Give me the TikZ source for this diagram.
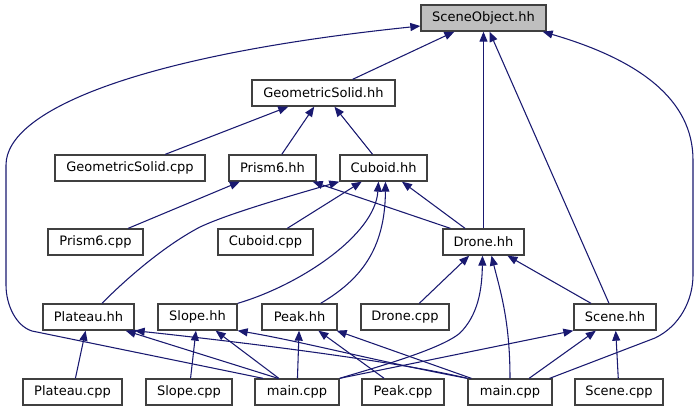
\documentclass[tikz,border=0pt]{standalone}
\usepackage{fontspec}
\setmainfont{DejaVu Sans}
\usepackage{xcolor}
\usetikzlibrary{arrows.meta, calc}
\definecolor{bleunuit}{HTML}{191970}
\definecolor{bord}{HTML}{404040}
\definecolor{grisfond}{HTML}{BFBFBF}
\tikzset{
  fichier/.style={rectangle, draw=bord, fill=white, line width=1pt,
    minimum height=19.5pt, inner sep=0pt, text=black,
    font=\fontsize{9.75}{11}\selectfont},
  racine/.style={fichier, fill=grisfond},
  larg/.style={minimum width=#1*0.75pt},
  inclusion/.style={-{Triangle[length=7.5pt, width=6pt]}, line width=0.8pt,
    color=bleunuit}
}
\begin{document}
\begin{tikzpicture}[x=0.75pt, y=-0.75pt]
    \useasboundingbox (0,0) rectangle (700,411);

    % Fichiers
    \node[racine,  larg=125] (so)  at (483.5,18)  {SceneObject.hh};
    \node[fichier, larg=143] (gsh) at (323.5,93)  {GeometricSolid.hh};
    \node[fichier, larg=150] (gsc) at (130,168)   {GeometricSolid.cpp};
    \node[fichier, larg=87]  (prh) at (272.5,168) {Prism6.hh};
    \node[fichier, larg=87]  (cuh) at (383.5,168) {Cuboid.hh};
    \node[fichier, larg=95]  (prc) at (95.5,242)  {Prism6.cpp};
    \node[fichier, larg=95]  (cuc) at (265.5,242) {Cuboid.cpp};
    \node[fichier, larg=81]  (drh) at (483.5,242) {Drone.hh};
    \node[fichier, larg=91]  (plh) at (88.5,317)  {Plateau.hh};
    \node[fichier, larg=79]  (slh) at (197.5,317) {Slope.hh};
    \node[fichier, larg=75]  (pkh) at (299.5,317) {Peak.hh};
    \node[fichier, larg=88]  (drc) at (405,317)   {Drone.cpp};
    \node[fichier, larg=82]  (sch) at (615,317)   {Scene.hh};
    \node[fichier, larg=99]  (plc) at (72.5,392)  {Plateau.cpp};
    \node[fichier, larg=86]  (slc) at (189,392)   {Slope.cpp};
    \node[fichier, larg=84]  (mna) at (297,392)   {main.cpp};
    \node[fichier, larg=82]  (pkc) at (403,392)   {Peak.cpp};
    \node[fichier, larg=84]  (mnb) at (510,392)   {main.cpp};
    \node[fichier, larg=88]  (scc) at (619,392)   {Scene.cpp};

    % Vers SceneObject.hh
    \draw[inclusion] (gsh) -- (so);
    \draw[inclusion] (drh) -- (so);
    \draw[inclusion] (sch) -- (so);
    \draw[inclusion] ($(mna.north)+(-34,0)$) -- (32,331)
      .. controls (16,326) and (6,305) .. (6,285) -- (6,165)
      .. controls (6,110) and (140,55) .. ($(so.west)+(0,8)$);
    \draw[inclusion] ($(mnb.north east)+(-3,0)$) -- (655,338)
      .. controls (680,326) and (693,300) .. (693,275) -- (693,160)
      .. controls (693,100) and (640,60) .. ($(so.south east)+(-4,0)$);

    % Vers GeometricSolid.hh
    \draw[inclusion] (gsc) -- (gsh);
    \draw[inclusion] (prh) -- (gsh);
    \draw[inclusion] (cuh) -- (gsh);

    % Vers Prism6.hh
    \draw[inclusion] (prc) -- (prh);
    \draw[inclusion] ($(drh.north west)+(8,0)$) -- ($(prh.south east)+(-4,0)$);

    % Vers Cuboid.hh
    \draw[inclusion] (cuc) -- (cuh);
    \draw[inclusion] (drh) -- (cuh);
    \draw[inclusion] ($(plh.north)+(13.5,0)$) .. controls (120,285) and (160,248) .. (200,227)
      .. controls (230,213) and (290,196) .. (cuh.south west);
    \draw[inclusion] (slh.north east) .. controls (300,285) and (375,235) .. ($(cuh.south)+(-5,0)$);
    \draw[inclusion] ($(pkh.north east)+(-17,0)$) .. controls (360,280) and (385,250) .. ($(cuh.south)+(2,0)$);

    % Vers Drone.hh
    \draw[inclusion] (drc) -- (drh);
    \draw[inclusion] (sch) -- (drh);
    \draw[inclusion] (mna.north east) .. controls (370,369) and (440,350) .. (460,333)
      .. controls (478,315) and (482,290) .. ($(drh.south)+(-1,0)$);
    \draw[inclusion] (mnb.north) .. controls (510,320) and (500,290) .. ($(drh.south)+(8,0)$);

    % Vers Plateau.hh
    \draw[inclusion] (plc) -- (plh);
    \draw[inclusion] ($(mna.north)+(-19,0)$) -- ($(plh.south east)+(-9,0)$);
    \draw[inclusion] (mnb.north west) .. controls (400,362) and (250,343) .. (plh.south east);

    % Vers Slope.hh
    \draw[inclusion] (slc) -- (slh);
    \draw[inclusion] (mna) -- (slh);
    \draw[inclusion] (mnb.north west) .. controls (380,362) and (300,341) .. (slh.south east);

    % Vers Peak.hh
    \draw[inclusion] (mna) -- (pkh);
    \draw[inclusion] (pkc) -- (pkh);
    \draw[inclusion] ($(mnb.north west)+(4,0)$) -- ($(pkh.south east)+(-1,0)$);

    % Vers Scene.hh
    \draw[inclusion] (mna.north east) -- (sch.south west);
    \draw[inclusion] (mnb) -- (sch);
    \draw[inclusion] (scc) -- (sch);
\end{tikzpicture}
\end{document}
